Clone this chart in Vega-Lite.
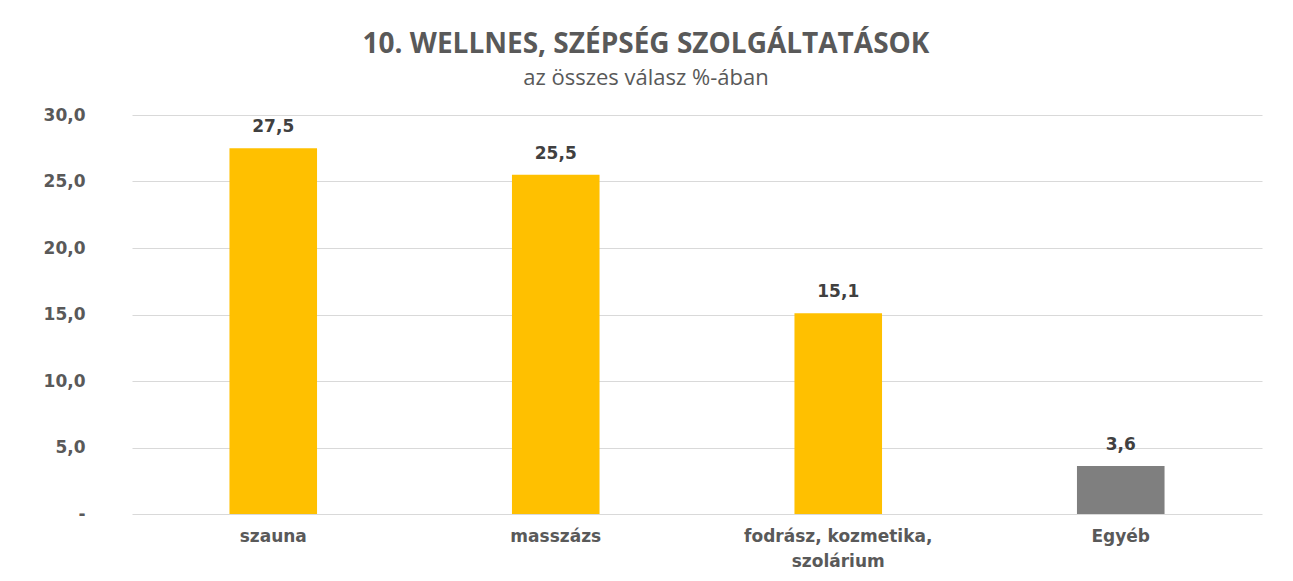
{
  "$schema": "https://vega.github.io/schema/vega-lite/v6.json",
  "width": 1130,
  "height": 399,
  "autosize": "none",
  "padding": {"left": 132, "top": 115, "right": 31, "bottom": 67},
  "background": "white",
  "title": {
    "text": "10. WELLNES, SZÉPSÉG SZOLGÁLTATÁSOK",
    "subtitle": "az összes válasz %-ában",
    "anchor": "middle",
    "dx": -51,
    "offset": 17,
    "font": "Open Sans",
    "fontSize": 28,
    "fontWeight": "bold",
    "color": "#595959",
    "subtitleFont": "Open Sans",
    "subtitleFontSize": 22,
    "subtitleColor": "#595959",
    "subtitlePadding": 9
  },
  "data": {
    "values": [
      {"kategoria": "szauna", "ertek": 27.5, "csoport": "fo"},
      {"kategoria": "masszázs", "ertek": 25.5, "csoport": "fo"},
      {"kategoria": "fodrász, kozmetika, szolárium", "ertek": 15.1, "csoport": "fo"},
      {"kategoria": "Egyéb", "ertek": 3.6, "csoport": "egyeb"}
    ]
  },
  "encoding": {
    "x": {
      "field": "kategoria",
      "type": "nominal",
      "sort": null,
      "scale": {"paddingInner": 0.69, "paddingOuter": 0.345},
      "axis": {
        "title": null,
        "labelAngle": 0,
        "domain": false,
        "ticks": false,
        "labelPadding": 14,
        "labelLimit": 400,
        "labelFont": "DejaVu Sans",
        "labelFontWeight": "bold",
        "labelFontSize": 17,
        "labelColor": "#595959",
        "labelLineHeight": 25,
        "labelExpr": "datum.label == 'fodrász, kozmetika, szolárium' ? ['fodrász, kozmetika,', 'szolárium'] : datum.label"
      }
    },
    "y": {
      "field": "ertek",
      "type": "quantitative",
      "scale": {"domain": [0, 30]},
      "axis": {
        "title": null,
        "values": [0, 5, 10, 15, 20, 25, 30],
        "domain": false,
        "ticks": false,
        "gridColor": "#d9d9d9",
        "gridWidth": 1,
        "labelPadding": 47,
        "labelFont": "DejaVu Sans",
        "labelFontWeight": "bold",
        "labelFontSize": 17,
        "labelColor": "#595959",
        "labelExpr": "datum.value == 0 ? '-' : replace(format(datum.value, '.1f'), '.', ',')"
      }
    }
  },
  "layer": [
    {
      "mark": {"type": "bar"},
      "encoding": {
        "color": {
          "field": "csoport",
          "type": "nominal",
          "scale": {"domain": ["fo", "egyeb"], "range": ["#ffc000", "#7f7f7f"]},
          "legend": null
        }
      }
    },
    {
      "mark": {
        "type": "text",
        "baseline": "bottom",
        "dy": -12,
        "font": "DejaVu Sans",
        "fontWeight": "bold",
        "fontSize": 17,
        "color": "#404040"
      },
      "encoding": {
        "text": {"field": "ertek", "type": "quantitative", "format": ",.1f", "formatType": "number"}
      }
    }
  ],
  "config": {
    "locale": {"number": {"decimal": ",", "thousands": " ", "grouping": [3], "currency": ["", " Ft"]}},
    "view": {"stroke": null}
  }
}
